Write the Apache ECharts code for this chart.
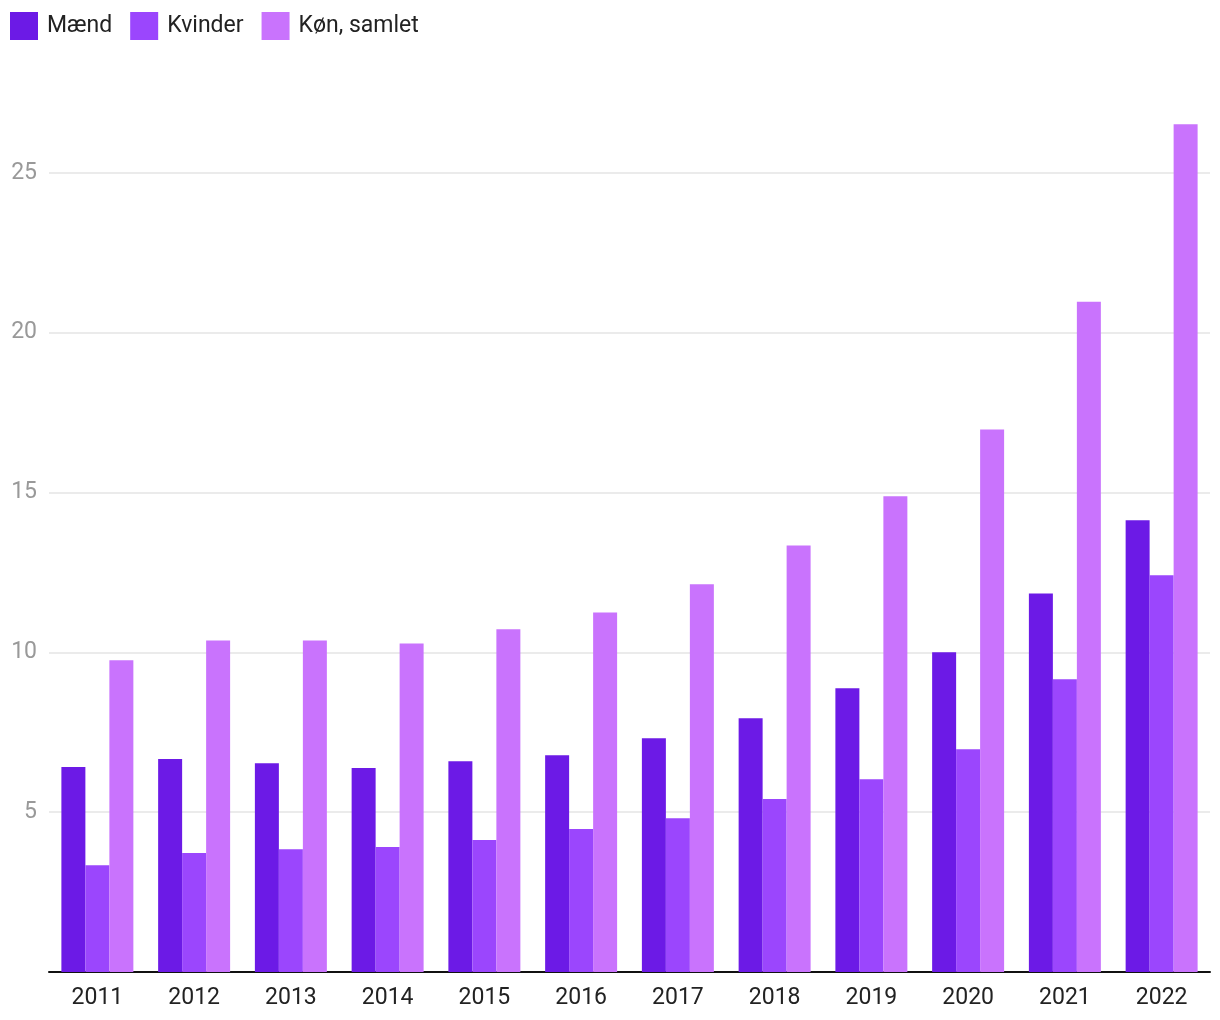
<!DOCTYPE html>
<html>
<head>
<meta charset="utf-8">
<script src="https://cdn.jsdelivr.net/npm/echarts@6/dist/echarts.min.js"></script>
<style>
html,body{margin:0;padding:0;background:#fff;}
#chart{width:1220px;height:1020px;}
</style>
</head>
<body>
<div id="chart"></div>
<script>
const categories = ['2011','2012','2013','2014','2015','2016','2017','2018','2019','2020','2021','2022'];
const seriesNames = ['Mænd','Kvinder','Køn, samlet'];
const maend   = [6.41, 6.66, 6.53, 6.38, 6.59, 6.78, 7.31, 7.94, 8.88, 10.0, 11.84, 14.13];
const kvinder = [3.34, 3.72, 3.84, 3.91, 4.13, 4.47, 4.81, 5.41, 6.03, 6.97, 9.16, 12.41];
const samlet  = [9.75, 10.37, 10.37, 10.28, 10.72, 11.25, 12.13, 13.34, 14.88, 16.97, 20.97, 26.52];
const colors = ['#6c1ae6', '#9b46fd', '#c973fd'];

const chart = echarts.init(document.getElementById('chart'));
const font = 'Roboto';
chart.setOption({
  animation: false,
  color: colors,
  textStyle: { fontFamily: font },
  legend: {
    left: 10, top: 12, padding: 0,
    itemWidth: 28, itemHeight: 28, itemGap: 18,
    icon: 'rect',
    textStyle: { fontSize: 23, color: '#222', fontFamily: font, padding: [6,0,0,4] },
    data: seriesNames
  },
  grid: { left: 49, right: 10, top: 13, bottom: 48, containLabel: false },
  xAxis: {
    type: 'category',
    data: categories,
    axisLine: { lineStyle: { color: '#111', width: 2 } },
    axisTick: { show: false },
    axisLabel: { fontSize: 23, color: '#222', margin: 15, fontFamily: font }
  },
  yAxis: {
    type: 'value',
    min: 0, max: 30, interval: 5,
    axisLine: { show: false },
    axisTick: { show: false },
    axisLabel: {
      fontSize: 23, color: '#999', margin: 12, fontFamily: font,
      formatter: v => (v === 0 || v === 30) ? '' : String(v)
    },
    splitLine: { lineStyle: { color: ['#e5e5e5','#e5e5e5','#e5e5e5','#e5e5e5','#e5e5e5','#e5e5e5','rgba(0,0,0,0)'], width: 1.5 } }
  },
  series: [
    { name: seriesNames[0], type: 'bar', data: maend, barGap: '0%', barCategoryGap: '25.6%' },
    { name: seriesNames[1], type: 'bar', data: kvinder, barGap: '0%', barCategoryGap: '25.6%' },
    { name: seriesNames[2], type: 'bar', data: samlet, barGap: '0%', barCategoryGap: '25.6%' }
  ]
});
</script>
</body>
</html>
